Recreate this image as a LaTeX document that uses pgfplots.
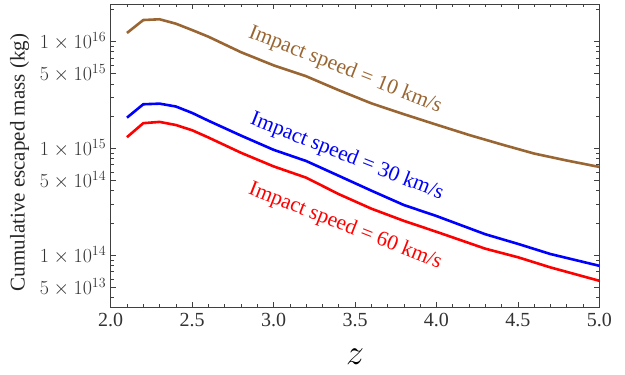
\RequirePackage{fix-cm}
\documentclass[border=0pt]{standalone}
\usepackage{fontspec}
\setmainfont{Liberation Serif}
\usepackage{pgfplots}
\pgfplotsset{compat=1.18}
\definecolor{mbrown}{rgb}{0.6,0.4,0.2}
\definecolor{frame}{gray}{0.25}
\begin{document}
\begin{tikzpicture}
\begin{axis}[
  scale only axis,
  width=488.6pt, height=302.7pt,
  xmin=2, xmax=5,
  ymode=log,
  ymin=3.27e13, ymax=2.22e16,
  axis line style={frame, line width=0.8pt},
  every tick/.style={frame, line width=0.6pt},
  major tick length=5pt, minor tick length=3pt,
  xtick={2,2.5,3,3.5,4,4.5,5},
  xticklabels={2.0,2.5,3.0,3.5,4.0,4.5,5.0},
  minor xtick={2.1,2.2,2.3,2.4,2.6,2.7,2.8,2.9,3.1,3.2,3.3,3.4,3.6,3.7,3.8,3.9,4.1,4.2,4.3,4.4,4.6,4.7,4.8,4.9},
  ytick={5e13,1e14,5e14,1e15,5e15,1e16},
  yticklabels={$5\times10^{13}$,$1\times10^{14}$,$5\times10^{14}$,$1\times10^{15}$,$5\times10^{15}$,$1\times10^{16}$},
  minor ytick={4e13,6e13,7e13,8e13,9e13,2e14,3e14,4e14,6e14,7e14,8e14,9e14,2e15,3e15,4e15,6e15,7e15,8e15,9e15,2e16},
  tick label style={font=\fontsize{20}{22}\selectfont, text=black!80},
  xticklabel style={yshift=-3pt},
  yticklabel style={xshift=-1pt},
  xlabel={$z$},
  xlabel style={font=\fontsize{36}{40}\selectfont, at={(rel axis cs:0.5,0)}, anchor=center, yshift=-50pt},
  ylabel={Cumulative escaped mass (kg)},
  ylabel style={font=\fontsize{21}{24}\selectfont, at={(rel axis cs:0,0.477)}, anchor=south, yshift=78pt, text=black!85},
  every axis plot/.append style={line width=2.6pt, line join=round},
  clip=false,
]
\addplot[mbrown] coordinates {
(2.1,1.197e16) (2.2,1.581e16) (2.3,1.607e16) (2.4,1.462e16) (2.5,1.274e16) (2.6,1.104e16)
(2.8,7.91e15) (3.0,5.96e15) (3.2,4.71e15) (3.4,3.49e15) (3.6,2.63e15) (3.8,2.08e15)
(4.0,1.66e15) (4.2,1.33e15) (4.4,1.084e15) (4.6,8.91e14) (4.8,7.67e14) (5.0,6.68e14)};
\addplot[blue] coordinates {
(2.1,1.932e15) (2.2,2.576e15) (2.3,2.61e15) (2.4,2.455e15) (2.5,2.138e15) (2.6,1.807e15)
(2.8,1.312e15) (3.0,9.66e14) (3.2,7.59e14) (3.4,5.52e14) (3.6,4.01e14) (3.8,2.94e14)
(4.0,2.32e14) (4.3,1.567e14) (4.5,1.274e14) (4.7,1.023e14) (5.0,7.94e13)};
\addplot[red] coordinates {
(2.1,1.268e15) (2.2,1.714e15) (2.3,1.762e15) (2.4,1.648e15) (2.5,1.472e15) (2.6,1.259e15)
(2.8,9.06e14) (3.0,6.76e14) (3.2,5.30e14) (3.4,3.72e14) (3.6,2.72e14) (3.8,2.09e14)
(4.0,1.652e14) (4.3,1.148e14) (4.5,9.55e13) (4.7,7.67e13) (5.0,5.75e13)};
\node[mbrown, rotate=-21.5, font=\fontsize{21.5}{24}\selectfont] at (axis cs:3.44,5.4e15) {Impact speed = 10 km/s};
\node[blue, rotate=-21.5, font=\fontsize{21.5}{24}\selectfont] at (axis cs:3.45,8.3e14) {Impact speed = 30 km/s};
\node[red, rotate=-21.5, font=\fontsize{21.5}{24}\selectfont] at (axis cs:3.44,1.86e14) {Impact speed = 60 km/s};
\end{axis}
\pgfresetboundingbox
\path ([shift={(-110.7pt,-67pt)}]current axis.south west) rectangle ([shift={(25.7pt,4.3pt)}]current axis.north east);
\end{tikzpicture}
\end{document}
